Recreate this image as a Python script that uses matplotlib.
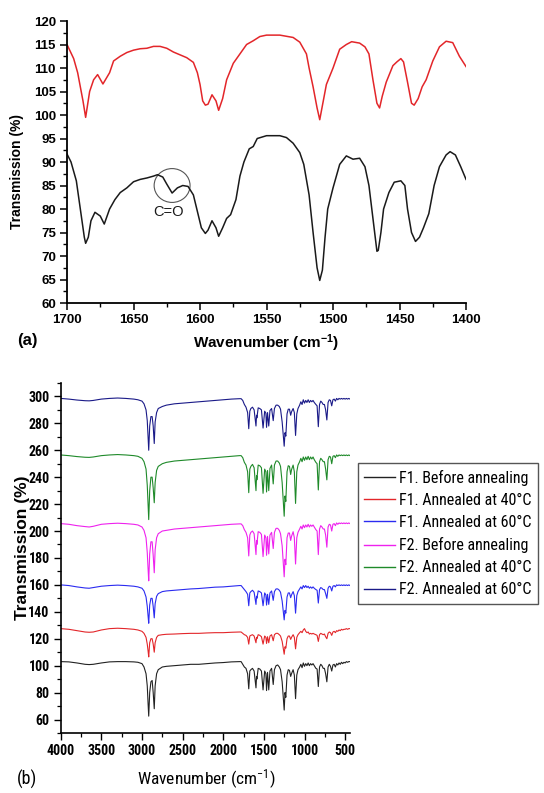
import os
import matplotlib
matplotlib.use("Agg")
import matplotlib.pyplot as plt
from matplotlib import font_manager as fm
from matplotlib.font_manager import FontProperties
from matplotlib.patches import Ellipse
from matplotlib.ticker import MultipleLocator

# ---------------- Panel (a) data ----------------
wn_a_red = [1700, 1695, 1692, 1688, 1686, 1683, 1680, 1677, 1673, 1668,
            1665, 1660, 1655, 1650, 1645, 1640, 1635, 1630, 1625, 1620,
            1615, 1610, 1605, 1602, 1600, 1598, 1596, 1594, 1591, 1588,
            1586, 1583, 1580, 1575, 1570, 1565, 1560, 1555, 1550, 1540,
            1530, 1525, 1520, 1518, 1515, 1512, 1510, 1507, 1505, 1500,
            1495, 1490, 1486, 1480, 1476, 1473, 1470, 1467, 1465, 1463,
            1460, 1455, 1452, 1449, 1447, 1444, 1441, 1439, 1436, 1433,
            1430, 1425, 1420, 1415, 1410, 1405, 1400]
t_a_red = [115, 112, 109, 103, 99.5, 105, 107.5, 108.6, 106.6, 109,
           111.5, 112.5, 113.3, 113.8, 114.1, 114.2, 114.6, 114.6, 114.2, 113.4,
           112.8, 112.2, 111.2, 109, 106.5, 103, 102.1, 102.3, 104.3, 103,
           101, 103.5, 107.5, 111, 113, 115, 115.8, 116.7, 117, 117,
           116.5, 115.5, 113, 110, 106, 101.5, 99, 103.5, 106.5, 110,
           114, 115, 115.6, 115.3, 114.5, 113, 107.5, 102.5, 101.5, 104,
           107, 110.5, 111.3, 112, 111.3, 107, 102.5, 102.1, 103.5, 106,
           107.5, 111.5, 114.5, 115.7, 115.4, 112.5, 110.3]

wn_a_black = [1700, 1697, 1693, 1690, 1687, 1686, 1684, 1682, 1679, 1675,
              1672, 1668, 1664, 1660, 1655, 1650, 1645, 1640, 1635, 1632,
              1628, 1625, 1621, 1617, 1613, 1609, 1605, 1602, 1599, 1596,
              1594, 1591, 1588, 1586, 1583, 1580, 1577, 1573, 1570, 1567,
              1563, 1560, 1557, 1550, 1540, 1535, 1530, 1525, 1522, 1518,
              1515, 1512, 1510, 1508, 1506, 1504, 1500, 1495, 1490, 1485,
              1480, 1476, 1473, 1470, 1467, 1466, 1464, 1462, 1458, 1454,
              1449, 1446, 1444, 1441, 1438, 1435, 1432, 1428, 1424, 1420,
              1415, 1412, 1408, 1404, 1400]
t_a_black = [91.7, 90, 86, 80, 74, 72.7, 74, 77.5, 79.3, 78.5,
             76.8, 80, 82, 83.5, 84.5, 85.8, 86.3, 86.6, 87, 87.3,
             86.8, 85.3, 83.4, 84.5, 85, 84.8, 83, 79.5, 76, 74.8,
             75.5, 77.5, 76, 74.2, 76, 78, 78.8, 82, 87, 90,
             92.8, 93.3, 95, 95.6, 95.6, 95.2, 94, 92, 89.5, 83,
             75, 67.5, 64.8, 67, 74, 80, 84.5, 89.5, 91.3, 90.6,
             90.8, 89, 85, 78, 71, 71.2, 75, 80, 83.5, 85.7,
             86, 85, 80, 75, 73.1, 74, 76, 79, 85, 89,
             91.5, 92.2, 91.5, 89, 86.3]

# ---------------- Panel (b) data ----------------
wn_b = [4000, 3900, 3800, 3700, 3650, 3600, 3500, 3400, 3300, 3200,
        3100, 3050, 3000, 2975, 2950, 2935, 2925, 2917, 2905, 2890,
        2875, 2862, 2849, 2838, 2820, 2800, 2750, 2700, 2600, 2500,
        2400, 2300, 2200, 2100, 2000, 1900, 1800, 1780, 1760, 1740,
        1720, 1700, 1686, 1673, 1660, 1640, 1620, 1597, 1590, 1586,
        1570, 1550, 1530, 1510, 1490, 1475, 1467, 1455, 1440, 1425,
        1405, 1385, 1370, 1350, 1330, 1310, 1295, 1275, 1250, 1240,
        1230, 1215, 1200, 1185, 1170, 1160, 1140, 1125, 1110, 1095,
        1080, 1060, 1045, 1030, 1015, 1000, 985, 970, 955, 940,
        925, 910, 895, 880, 860, 845, 830, 815, 800, 785,
        770, 755, 740, 725, 710, 695, 680, 665, 650, 635,
        620, 605, 590, 575, 560, 545, 530, 515, 500, 485,
        470, 455, 440]

f1_before = [103, 102.8, 102, 101, 100.8, 101, 102, 102.8, 103, 103,
             102.8, 102.5, 101.5, 99, 94, 85, 72, 62.5, 80, 88,
             89, 80, 68, 85, 94, 97, 99, 99.5, 100, 100.5,
             101, 101, 101.5, 102, 102.3, 102.8, 103, 103, 101, 99,
             98, 94, 82.8, 96, 97, 98, 96, 83.5, 92, 90,
             98, 97.5, 96, 82, 96, 94, 81.5, 95, 82, 96,
             98, 86, 97, 100, 100.5, 99, 97, 88, 67, 80,
             76.5, 93, 97, 96.5, 92, 94, 97, 93, 75.5, 93,
             97, 99, 101, 98.5, 102, 99.5, 101.5, 100, 102, 100,
             101.5, 100.5, 101.5, 100, 98, 97.5, 84.5, 99, 101, 100,
             98, 98, 94, 88, 99, 101, 99.5, 96, 100.5, 101,
             99, 101.5, 100.5, 102, 101, 102.5, 101.5, 102.5, 102, 103,
             102.5, 103, 103]

f1_40 = [127.5, 127, 126, 125, 124.8, 125, 126.5, 127.5, 127.8, 127.5,
         127, 126.5, 125.5, 124, 121, 116, 111, 106.5, 117, 120,
         120, 116, 110, 117, 121, 122.5, 123, 123.3, 123.5, 123.8,
         124, 124, 124.3, 124.5, 124.5, 124.8, 125, 125, 124, 123,
         122.5, 121, 116, 122, 122.5, 123, 122, 117, 121, 120,
         123, 122.5, 121.5, 116, 122, 121, 116.5, 121.5, 117, 122,
         123, 118.5, 123, 124, 124, 123, 122, 118, 108.5, 114,
         113, 120, 122, 122, 119.5, 121, 123, 121, 112.5, 121,
         123, 124.5, 125.5, 124.5, 126.5, 127.5, 125.5, 124.5, 125, 123.5,
         124, 123.5, 124, 123.5, 123, 122.5, 118, 123, 124, 123.5,
         123, 123.5, 121.5, 120, 124, 125, 124.5, 122.5, 125, 125.5,
         124.5, 126, 125.5, 126.5, 126, 127, 126.5, 127, 127, 127.5,
         127, 127.5, 127.5]

f1_60 = [160, 159.5, 158.5, 157.7, 157.5, 158, 159, 159.5, 159.8, 159.5,
         159, 158.5, 157.5, 155.5, 151, 144, 137, 131.5, 145, 150,
         150, 144, 135.5, 146, 151.5, 153.5, 155, 155.5, 156, 156.5,
         157, 157.3, 157.8, 158.3, 158.5, 159, 159.5, 159.5, 158, 156.5,
         155, 153, 144.5, 154, 155, 156, 154.5, 145.5, 151.5, 150,
         155.5, 155, 154, 144.5, 154, 152.5, 145, 153, 145.5, 154,
         155.5, 148.5, 155, 157, 157, 156, 154.5, 148, 134, 141,
         139, 151, 154, 154, 150.5, 152.5, 155, 152, 139, 152,
         155, 157, 158.5, 157, 159.5, 158, 159.5, 158, 159, 157.5,
         158.5, 157.5, 158.5, 157.5, 156.5, 156, 146.5, 156.5, 158, 157.5,
         156.5, 156.5, 153.5, 150, 157.5, 159, 158.5, 155.5, 159, 159.5,
         158.5, 160, 159.5, 160, 159.5, 160, 159.5, 160, 159.5, 160,
         159.5, 160, 159.5]

f2_before = [205.5, 205, 204, 203.3, 203, 203.5, 205, 205.5, 205.8, 205.5,
             205, 204.5, 203, 200.5, 195, 184, 172, 163, 183, 192,
             192, 182, 169, 186, 195, 198, 200, 200.5, 201.5, 202,
             202.5, 203, 203.5, 204, 204.5, 205, 205.3, 205.3, 204, 201,
             199, 195, 181.5, 197, 199, 200, 198, 182.5, 193, 190,
             199.5, 199, 197.5, 181, 197, 195, 182, 196, 183, 197,
             199, 187, 199, 202, 202, 200.5, 198, 189, 166, 179,
             175, 195, 198.5, 198.5, 193, 196, 199.5, 195, 175.5, 195,
             199, 201.5, 203.5, 201.5, 204.5, 202.5, 204.5, 203, 205, 203,
             204.5, 203.5, 204.5, 203, 201, 200, 182.5, 201.5, 204, 203,
             201.5, 201.5, 197, 188, 203, 205, 204.5, 200, 205, 205.5,
             204, 206, 205, 206, 205.5, 206, 205.5, 206, 205.5, 206,
             205.5, 206, 205.5]

f2_40 = [256.5, 256, 255.3, 254.8, 254.7, 255, 256, 256.5, 256.8, 256.5,
         256, 255.5, 254, 251.5, 246, 234, 220, 208.5, 230, 240,
         240, 232, 221, 236, 245, 248, 250, 251, 252, 252.5,
         253, 253.5, 254, 254.5, 255, 255.5, 256, 256, 254.5, 251,
         249, 244, 228.5, 246, 248, 249.5, 247, 230, 241, 238,
         249, 248.5, 247, 228, 246, 244, 229, 245, 230, 246.5,
         249, 235, 249, 252, 252, 250.5, 248, 236, 211, 226,
         222, 244, 248.5, 248, 242, 245.5, 249, 244, 220.5, 244,
         249, 251.5, 254, 251.5, 255, 252.5, 255, 253, 255.5, 253,
         255, 253.5, 255, 253, 251, 250, 230.5, 251.5, 254, 253,
         251.5, 251.5, 246, 238, 253, 255.5, 255, 250, 255.5, 256,
         254.5, 256.5, 255.5, 256.5, 256, 256.5, 256, 256.5, 256, 256.5,
         256, 256.5, 256]

f2_60 = [298.5, 298, 297.3, 296.8, 296.7, 297, 298, 298.5, 298.8, 298.5,
         298, 297.5, 296.5, 294.5, 290, 282, 270, 260, 278, 285,
         285, 278, 265, 281, 288, 291, 292.5, 293.5, 294.5, 295,
         295.5, 296, 296.5, 297, 297.5, 298, 298.3, 298.3, 297, 294,
         292, 288, 276, 289, 291, 292, 290, 278, 286, 284,
         291.5, 291, 290, 276.5, 289, 287.5, 277, 288, 278, 289.5,
         291, 282, 291, 293.5, 293.5, 292.5, 290.5, 281, 263, 273,
         270.5, 287, 290.5, 290.5, 286, 288.5, 291, 288, 271, 287,
         291, 293.5, 296, 294, 297.5, 295, 297, 295.5, 297.5, 295.5,
         297, 296, 297, 295.5, 294, 293, 277.5, 294, 296.5, 295.5,
         294, 294, 290, 282.5, 295.5, 297.5, 297, 293, 297.5, 298,
         296.5, 298.5, 297.5, 298.5, 298, 298.5, 298, 298.5, 298, 298.5,
         298, 298.5, 298]

labels_b = ["F1. Before annealing", "F1. Annealed at 40°C", "F1. Annealed at 60°C",
            "F2. Before annealing", "F2. Annealed at 40°C", "F2. Annealed at 60°C"]
series_b = [f1_before, f1_40, f1_60, f2_before, f2_40, f2_60]
colors_b = ["#222222", "#e3262a", "#2b2bf0", "#ee22ee", "#1f8a2a", "#1a1a88"]

# ---------------- Fonts ----------------
plt.rcParams["font.family"] = ["Liberation Sans", "DejaVu Sans"]
plt.rcParams["mathtext.fontset"] = "custom"
plt.rcParams["mathtext.rm"] = "Liberation Sans"
plt.rcParams["mathtext.bf"] = "Liberation Sans:bold"
plt.rcParams["mathtext.default"] = "regular"


def find_narrow(bold):
    prefs = ["liberationsansnarrow", "arialnarrow", "robotocondensed",
             "opensanscondensed", "notosanscondensed", "notosans-condensed",
             "dejavusanscondensed", "latocondensed"]
    best = None
    for f in fm.fontManager.ttflist:
        b = os.path.basename(f.fname).lower().replace(" ", "").replace("_", "")
        if "italic" in b or "oblique" in b:
            continue
        for rank, p in enumerate(prefs):
            if p in b:
                isbold = "bold" in b and not any(k in b for k in ["semibold", "extrabold", "demibold"])
                isreg = not any(k in b for k in ["bold", "light", "thin", "medium", "black", "semi", "extra"])
                if (bold and isbold) or ((not bold) and isreg):
                    if best is None or rank < best[0]:
                        best = (rank, f.fname)
    return None if best is None else best[1]


nar_reg = find_narrow(False)
nar_bold = find_narrow(True)


def nprop(size, bold=False):
    path = nar_bold if bold else nar_reg
    if path:
        return FontProperties(fname=path, size=size)
    return FontProperties(family="Liberation Sans", weight="bold" if bold else "normal",
                          size=size * 0.84)


fig = plt.figure(figsize=(5.44, 7.93), dpi=100)

# ---- Panel (a)
axa = fig.add_axes([0.1232, 0.6179, 0.7335, 0.3556])
axa.plot(wn_a_red, t_a_red, color="#e3262a", lw=1.1)
axa.plot(wn_a_black, t_a_black, color="#1a1a1a", lw=1.1)
axa.set_xlim(1700, 1400)
axa.set_ylim(60, 120)
axa.xaxis.set_major_locator(MultipleLocator(50))
axa.xaxis.set_minor_locator(MultipleLocator(25))
axa.yaxis.set_major_locator(MultipleLocator(5))
axa.yaxis.set_minor_locator(MultipleLocator(2.5))
for s in ["top", "right"]:
    axa.spines[s].set_visible(False)
for s in ["left", "bottom"]:
    axa.spines[s].set_linewidth(1.3)
axa.tick_params(which="major", direction="out", length=5, width=1.1, labelsize=9.5, pad=3)
axa.tick_params(which="minor", direction="out", length=3, width=1.0)
for lab in axa.get_xticklabels() + axa.get_yticklabels():
    lab.set_fontweight("bold")
axa.add_patch(Ellipse((1621, 85), 27, 7.2, fill=False, edgecolor="#555555", lw=0.8))
axa.text(1624, 79.3, "C=O", ha="center", va="center", fontsize=10.5, color="#1a1a1a")

fig.text(0.031, 0.7837, "Transmission (%)", rotation=90, ha="center", va="center",
         fontsize=10, fontweight="bold")
fig.text(0.4886, 0.5675, "Wavenumber (cm$^{-1}$)", ha="center", va="center",
         fontsize=11, fontweight="bold")
fig.text(0.031, 0.571, "(a)", ha="left", va="center", fontsize=12, fontweight="bold")

# ---- Panel (b)
axb = fig.add_axes([0.1116, 0.0757, 0.5318, 0.4414])
for ys, lab, col in zip(series_b, labels_b, colors_b):
    axb.plot(wn_b, ys, color=col, lw=0.8, label=lab)
axb.set_xlim(4000, 440)
axb.set_ylim(50, 310)
axb.xaxis.set_major_locator(MultipleLocator(500))
axb.xaxis.set_minor_locator(MultipleLocator(250))
axb.set_yticks(range(60, 301, 20))
axb.yaxis.set_minor_locator(MultipleLocator(10))
for s in ["top", "right"]:
    axb.spines[s].set_visible(False)
for s in ["left", "bottom"]:
    axb.spines[s].set_linewidth(1.2)
axb.tick_params(which="major", direction="out", length=5, width=1.0, pad=3)
axb.tick_params(which="minor", direction="out", length=3, width=0.9)
tick_fp = nprop(10, bold=True)
for lab in axb.get_xticklabels() + axb.get_yticklabels():
    lab.set_fontproperties(tick_fp)

fig.text(0.042, 0.3096, "Transmission (%)", rotation=90, ha="center", va="center",
         fontsize=12.5, fontweight="bold")
fig.text(0.3787, 0.0175, "Wavenumber (cm$^{-1}$)", ha="center", va="center",
         fontproperties=nprop(12.5))
fig.text(0.031, 0.0175, "(b)", ha="left", va="center", fontproperties=nprop(13))

handles, labs = axb.get_legend_handles_labels()
leg = fig.legend(handles, labs, loc="upper left", bbox_to_anchor=(0.658, 0.416),
                 bbox_transform=fig.transFigure, frameon=True, fancybox=False,
                 edgecolor="#555555", framealpha=1, borderpad=0.4, borderaxespad=0,
                 handlelength=1.9, handletextpad=0.25, labelspacing=0.45,
                 prop=nprop(11.5))
leg.get_frame().set_linewidth(1.0)
for line in leg.get_lines():
    line.set_linewidth(1.0)

fig.savefig("out.png", dpi=100)
